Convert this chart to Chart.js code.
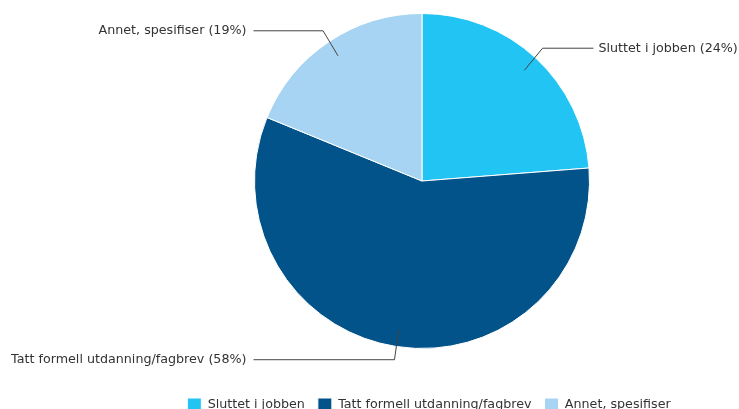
<!DOCTYPE html>
<html>
<head>
<meta charset="utf-8">
<script src="https://cdn.jsdelivr.net/npm/chart.js@4.4.1/dist/chart.umd.min.js"></script>
<style>
  html, body { margin: 0; padding: 0; background: #fff; overflow: hidden; }
  #wrap { position: relative; width: 739px; height: 416px; }
</style>
</head>
<body>
<div id="wrap"><canvas id="pieChart"></canvas></div>
<script>
const categories = ['Sluttet i jobben', 'Tatt formell utdanning/fagbrev', 'Annet, spesifiser'];
const percentages = [24, 58, 19];
const sliceColors = ['#22c4f3', '#02538a', '#a7d4f3'];

const FONT = "'DejaVu Sans', Verdana, sans-serif";
const FONT_SIZE = 12.7;
const TEXT_COLOR = '#333333';

// Leader lines + "Name (xx%)" labels outside the pie
const calloutLabels = {
  id: 'calloutLabels',
  afterDatasetsDraw(chart) {
    const ctx = chart.ctx;
    const meta = chart.getDatasetMeta(0);
    ctx.save();
    ctx.font = FONT_SIZE + 'px ' + FONT;
    ctx.textBaseline = 'middle';
    ctx.strokeStyle = '#444444';
    ctx.lineWidth = 1;
    meta.data.forEach((arc, i) => {
      const { x, y, startAngle, endAngle, outerRadius } =
        arc.getProps(['x', 'y', 'startAngle', 'endAngle', 'outerRadius'], true);
      const mid = (startAngle + endAngle) / 2;
      const cos = Math.cos(mid), sin = Math.sin(mid);
      const ax = x + cos * outerRadius * 0.9, ay = y + sin * outerRadius * 0.9;
      const ex = x + cos * outerRadius * 1.06, ey = y + sin * outerRadius * 1.08;
      const right = cos >= 0;
      const lx = right ? x + outerRadius + 4 : x - outerRadius - 1;
      ctx.beginPath();
      ctx.moveTo(ax, ay);
      ctx.lineTo(ex, ey);
      ctx.lineTo(lx, ey);
      ctx.stroke();
      ctx.fillStyle = TEXT_COLOR;
      ctx.textAlign = right ? 'left' : 'right';
      const tx = right ? lx + 5 : lx - 7;
      ctx.fillText(categories[i] + ' (' + percentages[i] + '%)', tx, ey);
    });
    ctx.restore();
  }
};

// move the legend right of the plot centre and down to the bottom edge
const legendShift = {
  id: 'legendShift',
  afterLayout(chart) {
    const lg = chart.legend;
    lg.left += 7;
    lg.right += 7;
    lg.top += 36;
    lg.bottom += 36;
  }
};

const ctxPie = document.getElementById('pieChart').getContext('2d');
new Chart(ctxPie, {
  type: 'pie',
  data: {
    labels: categories,
    datasets: [{
      data: percentages,
      backgroundColor: sliceColors,
      borderColor: '#ffffff',
      borderWidth: 1
    }]
  },
  options: {
    responsive: true,
    maintainAspectRatio: false,
    animation: false,
    layout: {
      padding: { top: 13, left: 105, right: 0, bottom: 30 }
    },
    plugins: {
      legend: {
        position: 'bottom',
        labels: {
          boxWidth: 14,
          boxHeight: 14,
          padding: 13,
          color: TEXT_COLOR,
          font: { family: FONT, size: FONT_SIZE }
        }
      },
      tooltip: { enabled: false }
    }
  },
  plugins: [calloutLabels, legendShift]
});
</script>
</body>
</html>
